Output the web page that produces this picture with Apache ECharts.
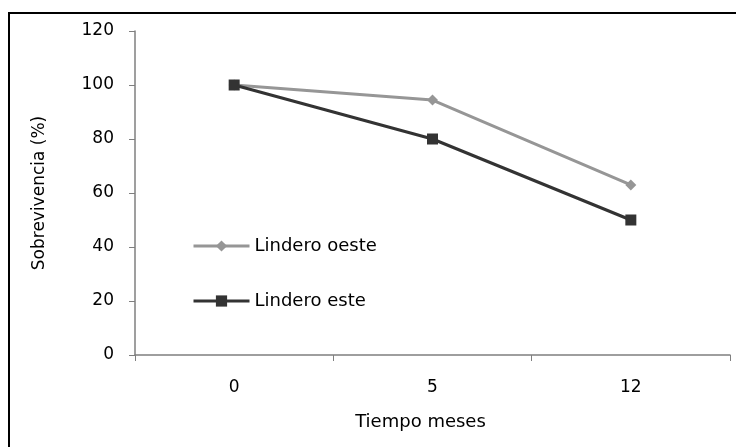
<!DOCTYPE html>
<html>
<head>
<meta charset="utf-8">
<script src="https://cdn.jsdelivr.net/npm/echarts@6/dist/echarts.min.js"></script>
<style>
html,body{margin:0;padding:0;background:#fff;}
#chart{width:736px;height:447px;}
</style>
</head>
<body>
<div id="chart"></div>
<script>
var categories = ['0', '5', '12'];
var oesteValues = [100, 94.4, 63];
var esteValues = [100, 80, 50];
var yTicks = [0, 20, 40, 60, 80, 100, 120];

var chart = echarts.init(document.getElementById('chart'), null, {renderer: 'canvas'});
var font = 'DejaVu Sans';
chart.setOption({
  animation: false,
  backgroundColor: '#ffffff',
  graphic: [{
    type: 'rect',
    shape: {x: 9, y: 13, width: 900, height: 600},
    style: {fill: 'none', stroke: '#000000', lineWidth: 2},
    silent: true
  }],
  grid: {left: 135, right: 6, top: 31, bottom: 92, containLabel: false},
  legend: {
    orient: 'vertical',
    left: 187,
    top: 232,
    itemWidth: 56,
    itemHeight: 14,
    itemGap: 37,
    lineStyle: {width: 3},
    textStyle: {fontFamily: font, fontSize: 18, color: '#000'},
    data: ['Lindero oeste', 'Lindero este']
  },
  xAxis: {
    type: 'category',
    data: categories,
    boundaryGap: true,
    name: 'Tiempo meses',
    nameLocation: 'middle',
    nameGap: 58,
    nameTextStyle: {fontFamily: font, fontSize: 18, color: '#000', padding: [0, 24, 0, 0]},
    axisLine: {lineStyle: {color: '#7f7f7f', width: 1.5}},
    axisTick: {show: true, alignWithLabel: false, length: 6, inside: false, lineStyle: {color: '#7f7f7f'}},
    axisLabel: {fontFamily: font, fontSize: 17, color: '#000', margin: 24},
    splitLine: {show: false}
  },
  yAxis: {
    type: 'value',
    min: yTicks[0],
    max: yTicks[yTicks.length - 1],
    interval: 20,
    name: 'Sobrevivencia (%)',
    nameLocation: 'middle',
    nameRotate: 90,
    nameGap: 87,
    nameTextStyle: {fontFamily: font, fontSize: 17, color: '#000'},
    axisLine: {show: true, lineStyle: {color: '#7f7f7f', width: 1.5}},
    axisTick: {show: true, length: 6, lineStyle: {color: '#7f7f7f'}},
    axisLabel: {fontFamily: font, fontSize: 17, color: '#000', margin: 21},
    splitLine: {show: false}
  },
  series: [{
    name: 'Lindero oeste',
    type: 'line',
    data: oesteValues,
    symbol: 'diamond',
    symbolSize: 11,
    itemStyle: {color: '#969696'},
    lineStyle: {color: '#969696', width: 3}
  }, {
    name: 'Lindero este',
    type: 'line',
    data: esteValues,
    symbol: 'rect',
    symbolSize: 11,
    itemStyle: {color: '#333333'},
    lineStyle: {color: '#333333', width: 3}
  }]
});
</script>
</body>
</html>
